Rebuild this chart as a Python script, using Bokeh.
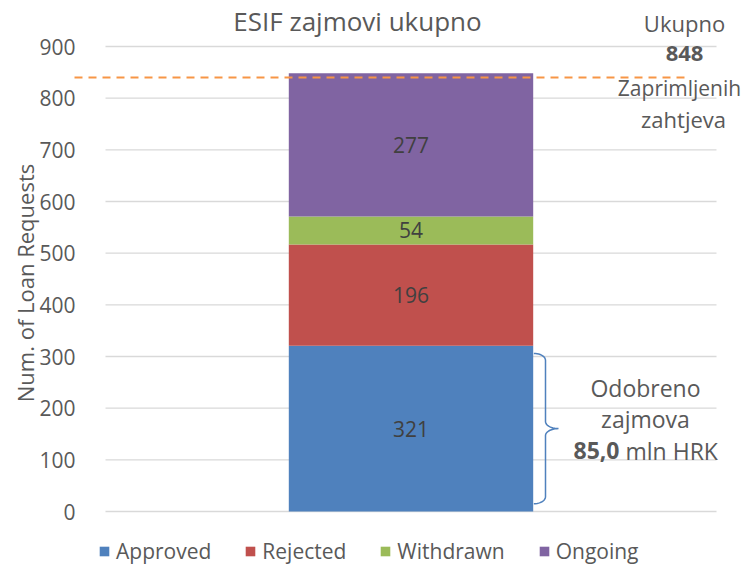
import numpy as np
from bokeh.plotting import figure
from bokeh.models import (Range1d, Label, Arrow, Legend, LegendItem,
                          ColumnDataSource, FixedTicker)
from bokeh.core.properties import value
from bokeh.embed import file_html
from bokeh.resources import INLINE

# ---------------- data ----------------
title_text = "ESIF zajmovi ukupno"
categories = ["Approved", "Rejected", "Withdrawn", "Ongoing"]
counts = [321, 196, 54, 277]
colors = ["#4F81BD", "#C0504D", "#9BBB59", "#8064A2"]
y_ticks = [0, 100, 200, 300, 400, 500, 600, 700, 800, 900]
y_label = "Num. of Loan Requests"
total_line_value = 840          # dashed reference line as drawn
total_lines = ["Ukupno", "Zaprimljenih", "zahtjeva"]
approved_lines = ["Odobreno", "zajmova"]
approved_amount = "85,0"
approved_unit = "mln HRK"

# ---------------- layout (canvas pixels) ----------------
FONT = "Open Sans"
GREY = "#595959"
W, H = 746, 565
PA_L, PA_R = 105, 716      # plot-area (gridline) extent in px -> category units 0..1
Y0, Y900 = 511, 46         # px of value 0 and 900
PXU = (Y0 - Y900) / 900.0
FRAME_L = 70               # frame extends so notes / legend are not clipped


def ux(px):
    return (px - PA_L) / (PA_R - PA_L)


def vy(py):
    return (Y0 - py) / PXU


p = figure(width=W, height=H, output_backend="svg", toolbar_location=None,
           x_axis_location=None,
           x_range=Range1d(ux(FRAME_L), ux(W)), y_range=Range1d(vy(H), vy(0)),
           min_border_left=FRAME_L, min_border_right=0,
           min_border_top=0, min_border_bottom=0)
p.outline_line_color = None
p.background_fill_color = "white"
p.border_fill_color = "white"
p.xgrid.visible = False
p.ygrid.visible = False

ya = p.yaxis[0]
ya.ticker = FixedTicker(ticks=y_ticks)
ya.axis_line_color = None
ya.major_tick_line_color = None
ya.minor_tick_line_color = None
ya.major_label_standoff = FRAME_L - 81
ya.major_label_text_font = FONT
ya.major_label_text_font_size = "21px"
ya.major_label_text_color = GREY
ya.axis_label = y_label
ya.axis_label_text_font = FONT
ya.axis_label_text_font_size = "22px"
ya.axis_label_text_font_style = "normal"
ya.axis_label_text_color = GREY
ya.axis_label_standoff = -4

# gridlines across the plot area (category units 0..1)
p.segment(x0=[0] * len(y_ticks), x1=[1] * len(y_ticks), y0=y_ticks, y1=y_ticks,
          line_color="#D9D9D9", line_width=1.3)

# ---------------- stacked bar ----------------
bar_x = 0.5
bar_w = 0.4
src = ColumnDataSource(dict(x=[bar_x], **{c: [v] for c, v in zip(categories, counts)}))
rs = p.vbar_stack(categories, x="x", width=bar_w, source=src,
                  fill_color=colors, line_color=None)

cum = np.cumsum([0] + counts)
mids = [(cum[i] + cum[i + 1]) / 2 for i in range(len(counts))]
p.text(x=[bar_x] * len(counts), y=mids, text=[str(c) for c in counts],
       text_align="center", text_baseline="middle",
       text_font=value(FONT), text_font_size="21px", text_color="#404040")

# ---------------- dashed total line ----------------
p.add_layout(Arrow(start=None, end=None,
                   x_start=ux(74), y_start=total_line_value,
                   x_end=ux(690), y_end=total_line_value,
                   line_color="#F79646", line_width=2, line_dash="8 6"))

# ---------------- brace for approved ----------------
x0 = bar_x + bar_w / 2 + 0.001
spine = ux(545)
tip = ux(558)
ry = 7 / PXU
y_top = counts[0] - 15
y_bot = 15
y_mid = counts[0] / 2
t = np.linspace(0, np.pi / 2, 12)
bx, by = [], []
bx += list(x0 + (spine - x0) * np.sin(t)); by += list(y_top - ry + ry * np.cos(t))
bx += list(spine + (tip - spine) * (1 - np.cos(t))); by += list(y_mid + ry * (1 - np.sin(t)))
bx += list(spine + (tip - spine) * (1 - np.cos(t[::-1]))); by += list(y_mid - ry * (1 - np.sin(t[::-1])))
bx += list(x0 + (spine - x0) * np.sin(t[::-1])); by += list(y_bot + ry - ry * np.cos(t[::-1]))
p.line(bx, by, line_color="#4F81BD", line_width=1.5)

# ---------------- annotations ----------------
def lab(text, px, py, size="22px", style="normal", align="center"):
    p.add_layout(Label(x=ux(px), y=vy(py), text=text, text_align=align,
                       text_baseline="middle", text_font=FONT,
                       text_font_size=size, text_font_style=style,
                       text_color=GREY))

total = int(sum(counts))
lab(total_lines[0], 684, 22)
lab(str(total), 684, 53, style="bold")
lab(total_lines[1], 679, 87, size="21px")
lab(total_lines[2], 683, 118)
lab(approved_lines[0], 645, 387, size="23px")
lab(approved_lines[1], 645, 418, size="23px")
lab(approved_amount, 619, 450, size="23px", style="bold", align="right")
lab(approved_unit, 625, 450, size="23px", align="left")

p.add_layout(Label(x=ux(357), y=vy(2), text=title_text, text_align="center",
                   text_baseline="top", text_font=FONT,
                   text_font_size="26px", text_color=GREY))

# ---------------- legend ----------------
legend = Legend(items=[LegendItem(label=c, renderers=[r]) for c, r in zip(categories, rs)],
                orientation="horizontal", location=(98 - FRAME_L, 0),
                border_line_color=None, background_fill_alpha=0,
                padding=0, margin=0, spacing=33, glyph_width=12, glyph_height=12,
                label_standoff=6, label_text_font=FONT, label_text_font_size="21px",
                label_text_color=GREY)
p.add_layout(legend, "center")

open("out.html", "w").write(file_html(p, INLINE))
